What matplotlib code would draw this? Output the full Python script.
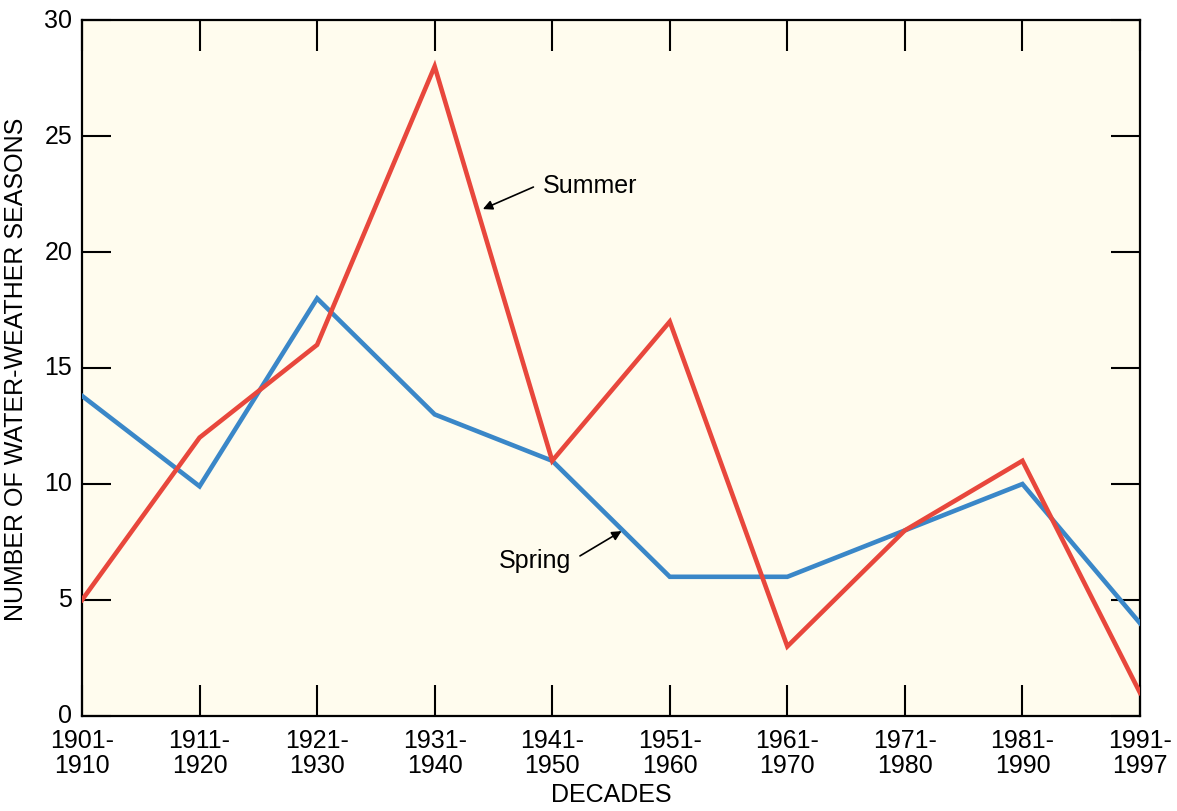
import numpy as np
import matplotlib.pyplot as plt
import matplotlib.transforms as mtransforms

plt.rcParams['font.family'] = ['Liberation Sans', 'DejaVu Sans']

decades = ["1901-\n1910", "1911-\n1920", "1921-\n1930", "1931-\n1940", "1941-\n1950",
           "1951-\n1960", "1961-\n1970", "1971-\n1980", "1981-\n1990", "1991-\n1997"]
summer = [5, 12, 16, 28, 11, 17, 3, 8, 11, 1]
spring = [13.8, 9.9, 18, 13, 11, 6, 6, 8, 10, 4]

x = np.arange(len(decades))

fig = plt.figure(figsize=(11.77, 8.12), dpi=100)
ax = fig.add_axes([82/1177, 1 - 717/812, 1058/1177, 696/812])
ax.set_facecolor("#fffcee")

ax.plot(x, spring, color="#3a87c8", lw=3.3, solid_joinstyle="miter", zorder=3)
ax.plot(x, summer, color="#e8473c", lw=3.3, solid_joinstyle="miter", zorder=4)

ax.set_xlim(0, 9)
ax.set_ylim(0, 30)
ax.set_xticks(x)
ax.set_xticklabels(decades, linespacing=1.05)
ax.set_yticks([0, 5, 10, 15, 20, 25, 30])

ax.tick_params(axis="x", direction="in", top=True, length=22, width=1.5,
               labelsize=18, pad=9)
ax.tick_params(axis="y", direction="in", right=True, length=21, width=1.5,
               labelsize=18, pad=7)
for s in ax.spines.values():
    s.set_linewidth(1.6)

# y labels sit a touch above their ticks in the original
shift = mtransforms.ScaledTranslation(0, 3/100, fig.dpi_scale_trans)
for lab in ax.get_yticklabels():
    lab.set_transform(lab.get_transform() + shift)

ax.set_xlabel("DECADES", fontsize=18, labelpad=3)
ax.set_ylabel("NUMBER OF WATER-WEATHER SEASONS", fontsize=18, labelpad=12)

# callouts
ax.text(3.92, 22.6, "Summer", fontsize=18, va="baseline", ha="left")
ax.annotate("", xy=(3.41, 21.85), xytext=(3.84, 22.8),
            arrowprops=dict(arrowstyle="-|>", color="black", lw=1.2,
                            shrinkA=0, shrinkB=0, mutation_scale=14))
ax.text(3.547, 6.42, "Spring", fontsize=18, va="baseline", ha="left")
ax.annotate("", xy=(4.59, 7.97), xytext=(4.236, 6.9),
            arrowprops=dict(arrowstyle="-|>", color="black", lw=1.2,
                            shrinkA=0, shrinkB=0, mutation_scale=14))

fig.savefig("out.png", dpi=100)
